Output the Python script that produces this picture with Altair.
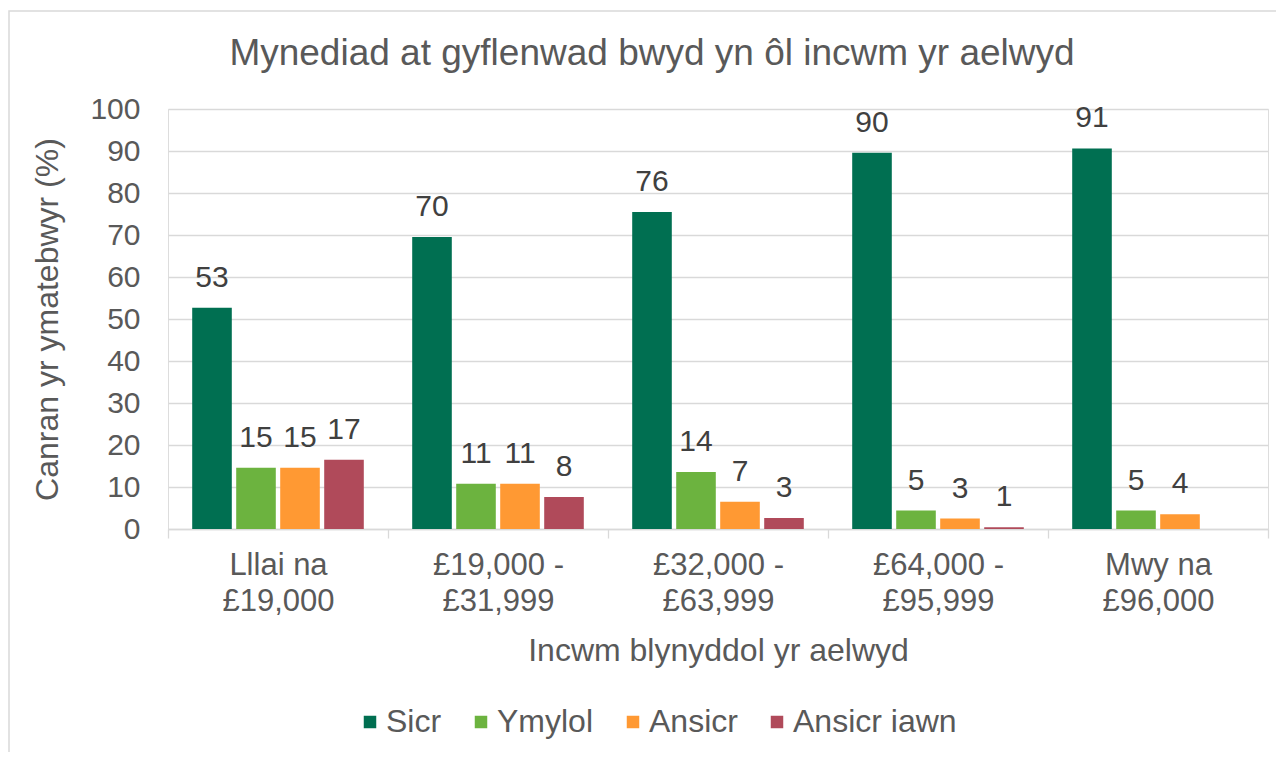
import altair as alt
import pandas as pd

categories = ["Lllai na £19,000", "£19,000 - £31,999", "£32,000 - £63,999",
              "£64,000 - £95,999", "Mwy na £96,000"]
statuses = ["Sicr", "Ymylol", "Ansicr", "Ansicr iawn"]
colors = ["#006F51", "#6CB33F", "#FF9933", "#B04A5A"]
chart_title = "Mynediad at gyflenwad bwyd yn ôl incwm yr aelwyd"

sicr = [52.7, 69.5, 75.5, 89.6, 90.6]
ymylol = [14.6, 10.8, 13.6, 4.4, 4.4]
ansicr = [14.6, 10.8, 6.5, 2.5, 3.5]
ansicr_iawn = [16.5, 7.6, 2.6, 0.4, None]

sicr_lbl = ["53", "70", "76", "90", "91"]
ymylol_lbl = ["15", "11", "14", "5", "5"]
ansicr_lbl = ["15", "11", "7", "3", "4"]
ansicr_iawn_lbl = ["17", "8", "3", "1", None]

rows = []
for st, vals, lbls in zip(statuses, [sicr, ymylol, ansicr, ansicr_iawn],
                          [sicr_lbl, ymylol_lbl, ansicr_lbl, ansicr_iawn_lbl]):
    for cat, v, l in zip(categories, vals, lbls):
        if v is not None:
            rows.append({"income": cat, "status": st, "value": v, "label": l})
df = pd.DataFrame(rows)

FONT = "Liberation Sans"
AX = "#595959"

x_enc = alt.X("income:N", sort=categories,
              scale=alt.Scale(paddingInner=0, paddingOuter=0),
              axis=alt.Axis(title="Incwm blynyddol yr aelwyd",
                            labelAngle=0, labelFontSize=31, labelColor=AX,
                            labelFont=FONT, labelLineHeight=36,
                            labelPadding=12,
                            labelExpr="[substring(datum.label, 0, lastindexof(datum.label, ' ')), substring(datum.label, lastindexof(datum.label, ' ') + 1)]",
                            titleFontSize=32, titleFont=FONT, titleColor=AX,
                            titleFontWeight="normal", titlePadding=19,
                            domainColor="#D9D9D9", domainWidth=1.3,
                            tickColor="#D9D9D9", tickSize=9, tickWidth=1.3,
                            tickBand="extent", grid=False))
xo_enc = alt.XOffset("status:N", sort=statuses,
                     scale=alt.Scale(paddingInner=0.1, paddingOuter=0.55))

bars = alt.Chart(df).mark_bar().encode(
    x=x_enc,
    xOffset=xo_enc,
    y=alt.Y("value:Q", scale=alt.Scale(domain=[0, 100]),
            axis=alt.Axis(title="Canran yr ymatebwyr (%)", values=list(range(0, 101, 10)),
                          labelFontSize=30, labelColor=AX, labelFont=FONT,
                          labelPadding=28, domain=False, ticks=False,
                          gridColor="#D9D9D9", gridWidth=1.3,
                          titleFontSize=32, titleFont=FONT, titleColor=AX,
                          titleFontWeight="normal", titleX=-121, titleY=210,
                          titleBaseline="middle", titleAngle=-90)),
    color=alt.Color("status:N", sort=statuses,
                    scale=alt.Scale(domain=statuses, range=colors),
                    legend=alt.Legend(title=None, orient="none", direction="horizontal",
                                      legendX=186, legendY=597,
                                      symbolType="square", symbolSize=156,
                                      symbolStrokeWidth=0, labelFontSize=32,
                                      labelFont=FONT, labelColor=AX, labelLimit=400,
                                      labelOffset=0, columnPadding=23, padding=0)),
)

labels = alt.Chart(df).mark_text(fontSize=30, font=FONT, color="#404040",
                                 baseline="alphabetic", dy=-21).encode(
    x=alt.X("income:N", sort=categories),
    xOffset=alt.XOffset("status:N", sort=statuses),
    y=alt.Y("value:Q"),
    text="label:N",
)

frame = alt.Chart(alt.Data(values=[{"a": 1}])).mark_rect(
    fillOpacity=0, stroke="#D9D9D9", strokeWidth=1.5).encode(
    x=alt.value(-159), x2=alt.value(1300), y=alt.value(-98), y2=alt.value(800))

title = alt.Chart(alt.Data(values=[{"t": chart_title}])).mark_text(
    fontSize=37, font=FONT, color=AX, align="center", baseline="alphabetic").encode(
    x=alt.value(484), y=alt.value(-44), text="t:N")

chart = alt.layer(frame, bars, labels, title).properties(
    width=1100, height=420,
    autosize=alt.AutoSizeParams(type="none"),
    padding={"left": 160, "top": 101, "right": 8, "bottom": 223},
).configure_view(stroke=None).configure(background="white")

chart.save("out.html", embed_options={"renderer": "svg", "actions": False})
